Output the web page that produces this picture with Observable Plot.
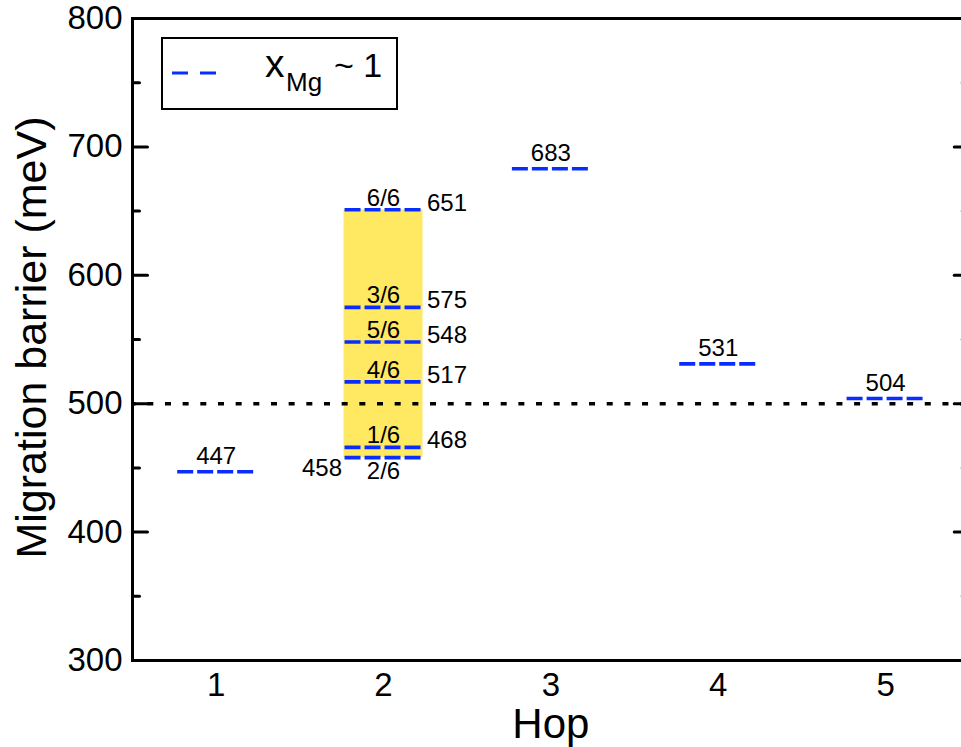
<!DOCTYPE html>
<html><head><meta charset="utf-8">
<script src="https://cdn.jsdelivr.net/npm/d3@7"></script>
<script src="https://cdn.jsdelivr.net/npm/@observablehq/plot@0.6"></script>
<style>html,body{margin:0;padding:0;background:#fff;overflow:hidden}</style>
</head><body><div id="chart"></div>
<script>
// ---- data ----
const hops = [1, 3, 4, 5];
const hopBarriers = [447, 683, 531, 504];
const hop2 = 2;
const hop2Barriers = [651, 575, 548, 517, 466, 458];
const hop2Values = ["651", "575", "548", "517", "468", "458"];
const hop2Fractions = ["6/6", "3/6", "5/6", "4/6", "1/6", "2/6"];
const hop2Range = [458, 651];
const referenceBarrier = [500];
const xTicks = [1, 2, 3, 4, 5];
const yMajorTicks = [300, 400, 500, 600, 700, 800];
const yMinorTicks = [350, 450, 550, 650, 750];
const xLabel = "Hop";
const yLabel = "Migration barrier (meV)";
const legendMain = "x", legendSub = "Mg", legendRest = "~ 1";

// ---- tables ----
const single = hops.map((h, i) => ({hop: h, barrier: hopBarriers[i]}));
const hop2Rows = hop2Barriers.map((b, i) => ({hop: hop2, barrier: b, value: hop2Values[i], frac: hop2Fractions[i], i}));
const lastIdx = hop2Rows.length - 1;
const allLevels = single.concat(hop2Rows.map(d => ({hop: d.hop, barrier: d.barrier})));

const BLUE = "#0a2dff", YELLOW = "#ffe862";
const hw = 0.23, rw = 0.236;
const FONT = "'Liberation Sans', Arial, Helvetica, sans-serif";
const tickShape = {draw(ctx, l) { ctx.moveTo(0, 0); ctx.lineTo(0, -l); }};

const chart = Plot.plot({
  width: 961, height: 747,
  marginTop: 18, marginBottom: 87, marginLeft: 132, marginRight: -7.75,
  x: {domain: [0.5, 5.5]},
  y: {domain: [300, 800]},
  style: {fontFamily: FONT, color: "black", background: "white"},
  marks: [
    Plot.rect([hop2Range], {x1: () => hop2 - rw, x2: () => hop2 + rw, y1: d => d[0], y2: d => d[1], fill: YELLOW}),
    Plot.ruleY(referenceBarrier, {stroke: "black", strokeWidth: 3.5, strokeDasharray: "6,11.67", strokeDashoffset: 2.37}),
    Plot.ruleY(allLevels, {y: "barrier", x1: d => d.hop - hw, x2: d => d.hop + hw, stroke: BLUE, strokeWidth: 3.6, strokeDasharray: "16,4"}),
    Plot.frame({stroke: "black", strokeWidth: 3}),
    Plot.vector(yMajorTicks, {y: d => d, frameAnchor: "left", length: 15, rotate: 90, anchor: "start", shape: tickShape, stroke: "black", strokeWidth: 3}),
    Plot.vector(yMinorTicks, {y: d => d, frameAnchor: "left", length: 7, rotate: 90, anchor: "start", shape: tickShape, stroke: "black", strokeWidth: 3}),
    Plot.vector(yMajorTicks, {y: d => d, frameAnchor: "right", length: 15, rotate: -90, anchor: "start", shape: tickShape, stroke: "black", strokeWidth: 3}),
    Plot.vector(yMinorTicks, {y: d => d, frameAnchor: "right", length: 7, rotate: -90, anchor: "start", shape: tickShape, stroke: "black", strokeWidth: 3}),
    Plot.axisY(yMajorTicks, {tickSize: 0, tickPadding: 10, fontSize: 33, label: null}),
    Plot.axisX(xTicks, {tickSize: 0, tickPadding: 12, fontSize: 33, label: null, tickFormat: d => String(d)}),
    Plot.text([xLabel], {frameAnchor: "bottom", textAnchor: "middle", lineAnchor: "bottom", dy: 77, fontSize: 42, text: d => d}),
    Plot.text([yLabel], {frameAnchor: "left", textAnchor: "middle", lineAnchor: "bottom", rotate: -90, dx: -87, dy: -2, fontSize: 43, text: d => d}),
    // single-hop value labels
    Plot.text(single, {x: "hop", y: "barrier", text: d => String(d.barrier), lineAnchor: "bottom", dy: -8, fontSize: 24}),
    // hop 2 fraction labels
    Plot.text(hop2Rows.filter(d => d.i !== lastIdx), {x: "hop", y: "barrier", text: "frac", lineAnchor: "bottom", dy: -4, fontSize: 24}),
    Plot.text(hop2Rows.filter(d => d.i === lastIdx), {x: "hop", y: "barrier", text: "frac", lineAnchor: "bottom", dy: 21, fontSize: 24}),
    // hop 2 value labels
    Plot.text(hop2Rows.filter(d => d.i !== lastIdx), {x: d => d.hop + hw, y: "barrier", text: "value", textAnchor: "start", lineAnchor: "bottom", dx: 5, dy: 1, fontSize: 24}),
    Plot.text(hop2Rows.filter(d => d.i === lastIdx), {x: d => d.hop - rw, y: "barrier", text: "value", textAnchor: "end", lineAnchor: "bottom", dx: -2, dy: 18, fontSize: 24})
  ]
});
document.getElementById("chart").appendChild(chart);

// ---- legend (inside plot area, top-left) ----
const svg = d3.select(chart);
const lg = svg.append("g").attr("font-family", FONT).attr("fill", "black").attr("text-anchor", "start");
lg.append("rect").attr("x", 162).attr("y", 38).attr("width", 235).attr("height", 71)
  .attr("fill", "white").attr("stroke", "black").attr("stroke-width", 2);
lg.append("line").attr("x1", 172).attr("x2", 217).attr("y1", 73).attr("y2", 73)
  .attr("stroke", BLUE).attr("stroke-width", 3).attr("stroke-dasharray", "16,12");
lg.append("text").attr("x", 265).attr("y", 77).attr("font-size", 39).text(legendMain);
lg.append("text").attr("x", 286).attr("y", 91).attr("font-size", 26).text(legendSub);
lg.append("text").attr("x", 334).attr("y", 77).attr("font-size", 34).text(legendRest);
</script>
</body></html>
